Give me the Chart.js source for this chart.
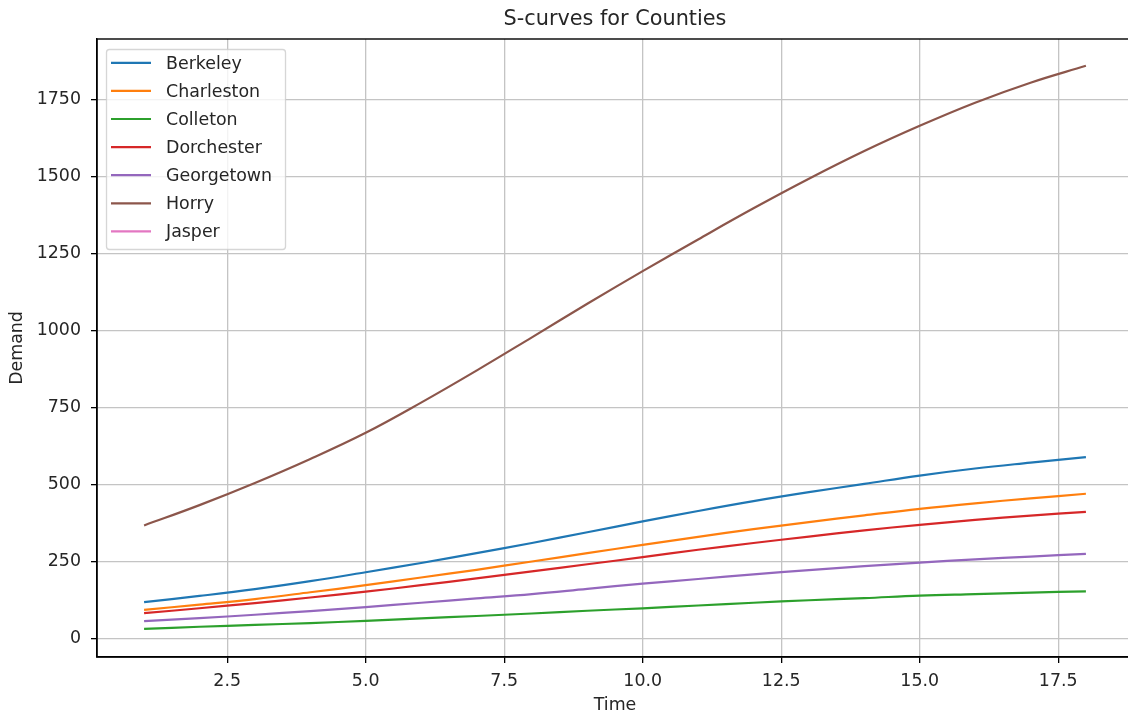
<!DOCTYPE html>
<html><head><meta charset="utf-8">
<script src="https://cdn.jsdelivr.net/npm/chart.js@4/dist/chart.umd.min.js"></script>
<style>
html,body{margin:0;padding:0;overflow:hidden;background:#fff;width:1128px;height:715px}
#wrap{position:absolute;left:0;top:0;width:1134px;height:715px}
</style></head>
<body><div id="wrap"><canvas id="c" width="1134" height="715"></canvas></div>
<script>
const chartTitle = 'S-curves for Counties';
const xLabel = 'Time';
const yLabel = 'Demand';
const times = [1,2,3,4,5,6,7,8,9,10,11,12,13,14,15,16,17,18];
const counties = ['Berkeley','Charleston','Colleton','Dorchester','Georgetown','Horry','Jasper'];
const berkeley   = [118,138,160,186,215,245,277,310,345,380,414,446,475,502,529,552,571,589];
const charleston = [93,110,128,150,173,198,223,250,277,304,330,355,378,400,421,439,455,470];
const colleton   = [31,38,44,50,57,65,73,81,90,98,107,116,124,131,139,144,149,153];
const dorchester = [82,98,115,133,152,173,195,218,241,264,288,310,331,351,369,385,399,411];
const georgetown = [56,66,77,89,102,116,130,144,161,178,193,208,222,235,246,257,266,275];
const horry      = [367,433,505,583,668,766,870,978,1087,1193,1296,1397,1493,1583,1665,1740,1805,1860];
const jasper     = [null,null,null,null,null,null,null,null,null,null,null,null,null,null,null,null,null,null];
const xTicks = [2.5,5,7.5,10,12.5,15,17.5];
const yTicks = [0,250,500,750,1000,1250,1500,1750];
const colors = ['#1f77b4','#ff7f0e','#2ca02c','#d62728','#9467bd','#8c564b','#e377c2'];
const seriesValues = [berkeley,charleston,colleton,dorchester,georgetown,horry,jasper];

const FONT = 'DejaVu Sans';
const FS = 17.4;

const datasets = counties.map((name,i)=>({
  label: name,
  data: times.map((t,j)=>({x:t, y:seriesValues[i][j]})),
  borderColor: colors[i],
  backgroundColor: colors[i],
  borderWidth: 2.2,
  pointRadius: 0,
  pointHoverRadius: 0,
  tension: 0.4,
  fill: false
}));

const decor = {
  id: 'decor',
  afterDatasetsDraw(chart){
    const {ctx, chartArea:a} = chart;
    ctx.save();
    ctx.strokeStyle = '#000';
    ctx.lineWidth = 1.4;
    ctx.strokeRect(a.left, a.top, a.right-a.left+1, a.bottom-a.top);
    const lx = 106.5, ly = 49.5, lw = 179, lh = 200, r = 3;
    ctx.beginPath();
    ctx.moveTo(lx+r, ly);
    ctx.lineTo(lx+lw-r, ly); ctx.arcTo(lx+lw, ly, lx+lw, ly+r, r);
    ctx.lineTo(lx+lw, ly+lh-r); ctx.arcTo(lx+lw, ly+lh, lx+lw-r, ly+lh, r);
    ctx.lineTo(lx+r, ly+lh); ctx.arcTo(lx, ly+lh, lx, ly+lh-r, r);
    ctx.lineTo(lx, ly+r); ctx.arcTo(lx, ly, lx+r, ly, r);
    ctx.closePath();
    ctx.fillStyle = 'rgba(255,255,255,0.8)';
    ctx.fill();
    ctx.strokeStyle = 'rgba(204,204,204,0.8)';
    ctx.lineWidth = 1.3;
    ctx.stroke();
    ctx.font = FS + 'px "' + FONT + '"';
    ctx.textBaseline = 'middle';
    ctx.textAlign = 'left';
    chart.data.datasets.forEach((ds,i)=>{
      const y = 62.8 + i*28.1;
      ctx.strokeStyle = ds.borderColor;
      ctx.lineWidth = 2.2;
      ctx.beginPath();
      ctx.moveTo(111, y); ctx.lineTo(151, y);
      ctx.stroke();
      ctx.fillStyle = '#262626';
      ctx.fillText(ds.label, 166, y+1.5);
    });
    ctx.restore();
  },
  afterDraw(chart){
    const {ctx, chartArea:a} = chart;
    ctx.save();
    ctx.font = '20.8px "' + FONT + '"';
    ctx.fillStyle = '#262626';
    ctx.textAlign = 'center';
    ctx.textBaseline = 'middle';
    ctx.fillText(chartTitle, (a.left + a.right)/2, 20);
    ctx.restore();
  }
};

new Chart(document.getElementById('c'), {
  type: 'line',
  data: { datasets },
  options: {
    responsive: false,
    devicePixelRatio: 1,
    animation: false,
    events: [],
    layout: { padding: { top: 39, right: 1, left: 0, bottom: 0 } },
    plugins: { legend: { display: false }, title: { display: false }, tooltip: { enabled: false } },
    scales: {
      x: {
        type: 'linear',
        min: 0.15, max: 18.85,
        afterFit(s){ s.height = 58; },
        afterBuildTicks(s){ s.ticks = xTicks.map(v=>({value:v})); },
        ticks: { autoSkip:false, maxRotation:0, padding: 8, color:'#262626',
          font:{family:FONT, size:FS}, callback:(v)=>Number(v).toFixed(1) },
        grid: { color:'#c4c4c4', lineWidth:1.3, tickLength:6, tickColor:'#000' },
        border: { color:'#000', width:1.4 },
        title: { display:true, text:xLabel, color:'#262626', font:{family:FONT, size:FS}, padding:{top:0,bottom:-1} }
      },
      y: {
        type: 'linear',
        min: -60.25, max: 1947,
        afterFit(s){ s.width = 97; },
        afterBuildTicks(s){ s.ticks = yTicks.map(v=>({value:v})); },
        ticks: { autoSkip:false, padding: 10, color:'#262626',
          font:{family:FONT, size:FS}, callback:(v)=>String(v) },
        grid: { color:'#c4c4c4', lineWidth:1.3, tickLength:6, tickColor:'#000' },
        border: { color:'#000', width:1.4 },
        title: { display:true, text:yLabel, color:'#262626', font:{family:FONT, size:FS}, padding:{top:7,bottom:0} }
      }
    }
  },
  plugins: [decor]
});
</script>
</body></html>
